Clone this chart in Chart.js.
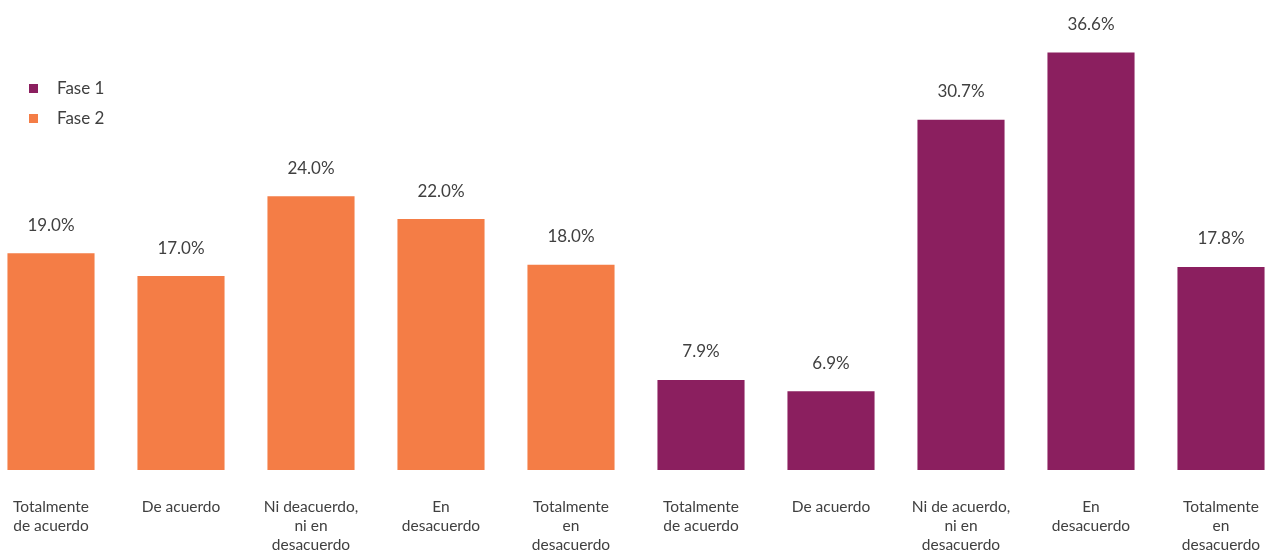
<!DOCTYPE html>
<html>
<head>
  <script src="https://cdn.jsdelivr.net/npm/chart.js"></script>
  <title>Fase 1 y Fase 2</title>
  <style>
    html, body { margin: 0; padding: 0; overflow: hidden; background: #fff; }
    #wrap { position: absolute; left: -14px; top: 0; width: 1300px; height: 550px; }
    #legend { position: absolute; left: 29px; top: 76px; font-family: Lato, sans-serif; font-size: 17px; color: #404040; }
    #legend div { height: 30px; line-height: 24px; }
    #legend span { display: inline-block; width: 9px; height: 9px; margin-right: 19px; vertical-align: 1px; }
  </style>
</head>
<body>
  <div id="wrap"><canvas id="chart"></canvas></div>
  <div id="legend"></div>

  <script>
    // categories (multi-line tick labels)
    const labels = [
      ['Totalmente', 'de acuerdo'],
      ['De acuerdo'],
      ['Ni deacuerdo,', 'ni en', 'desacuerdo'],
      ['En', 'desacuerdo'],
      ['Totalmente', 'en', 'desacuerdo'],
      ['Totalmente', 'de acuerdo'],
      ['De acuerdo'],
      ['Ni de acuerdo,', 'ni en', 'desacuerdo'],
      ['En', 'desacuerdo'],
      ['Totalmente', 'en', 'desacuerdo']
    ];
    const fase2 = [19.0, 17.0, 24.0, 22.0, 18.0, null, null, null, null, null];
    const fase1 = [null, null, null, null, null, 7.9, 6.9, 30.7, 36.6, 17.8];

    const purple = '#8B1F5F';
    const orange = '#F47D46';

    // value labels above bars
    const valueLabels = {
      id: 'valueLabels',
      afterDatasetsDraw(chart) {
        const ctx = chart.ctx;
        ctx.save();
        ctx.font = '17px Lato, sans-serif';
        ctx.fillStyle = '#404040';
        ctx.textAlign = 'center';
        ctx.textBaseline = 'middle';
        chart.data.datasets.forEach((ds, i) => {
          chart.getDatasetMeta(i).data.forEach((bar, j) => {
            if (ds.data[j] == null) return;
            ctx.fillText(ds.data[j].toFixed(1) + '%', bar.x, bar.y - 28);
          });
        });
        ctx.restore();
      }
    };

    const ctx = document.getElementById('chart').getContext('2d');
    const chart = new Chart(ctx, {
      type: 'bar',
      data: {
        labels: labels,
        datasets: [
          { label: 'Fase 1', data: fase1, backgroundColor: purple },
          { label: 'Fase 2', data: fase2, backgroundColor: orange }
        ]
      },
      options: {
        responsive: true,
        maintainAspectRatio: false,
        animation: false,
        grouped: false,
        barPercentage: 0.67,
        categoryPercentage: 1,
        layout: { padding: 0 },
        plugins: { legend: { display: false }, tooltip: { enabled: false } },
        scales: {
          x: {
            grid: { display: false },
            border: { display: false },
            ticks: {
              padding: 19,
              maxRotation: 0,
              autoSkip: false,
              color: '#404040',
              font: { family: 'Lato, sans-serif', size: 15.5, lineHeight: 1.25 }
            },
            afterFit: s => { s.height = 80; }
          },
          y: { display: false, min: 0, max: 41.2 }
        }
      },
      plugins: [valueLabels]
    });

    // legend
    const legend = document.getElementById('legend');
    chart.data.datasets.forEach(ds => {
      const row = document.createElement('div');
      row.innerHTML = '<span style="background:' + ds.backgroundColor + '"></span>' + ds.label;
      legend.appendChild(row);
    });
  </script>
</body>
</html>
